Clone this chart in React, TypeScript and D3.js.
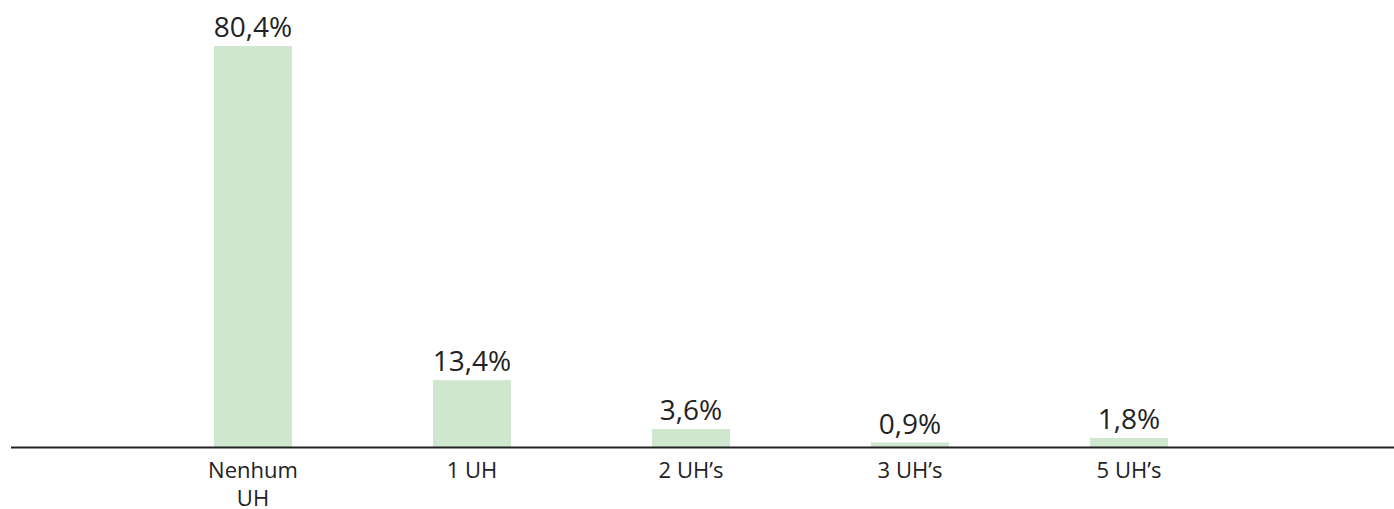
import React from 'react';
import * as d3 from 'd3';

const categories = ['Nenhum\nUH', '1 UH', '2 UH’s', '3 UH’s', '5 UH’s'];
const values = [80.4, 13.4, 3.6, 0.9, 1.8];
const valueLabels = ['80,4%', '13,4%', '3,6%', '0,9%', '1,8%'];

const width = 1394;
const height = 509;
const baseline = 447;
const fill = '#cfe6cf';
const font = '"Open Sans", sans-serif';

export default function App() {
  // step 219, bar width ~78
  const x = d3.scaleBand<string>()
    .domain(categories)
    .range([143.5, 1238.5])
    .paddingInner(0.644)
    .paddingOuter(0.322);

  const y = d3.scaleLinear()
    .domain([0, 80.4])
    .range([baseline, 46]);

  return (
    <svg width={width} height={height} style={{ position: 'absolute', left: 0, top: 0 }}>
      {categories.map((c, i) => {
        const cx = x(c)! + x.bandwidth() / 2;
        const lines = c.split('\n');
        return (
          <g key={c}>
            <rect x={x(c)!} y={y(values[i])} width={x.bandwidth()} height={baseline - y(values[i])} fill={fill} />
            <text x={cx} y={y(values[i]) - 9} textAnchor="middle" fontFamily={font} fontSize={28} fill="#222">
              {valueLabels[i]}
            </text>
            {lines.map((l, j) => (
              <text key={j} x={cx} y={478 + j * 28} textAnchor="middle" fontFamily={font} fontSize={22} fill="#222">
                {l}
              </text>
            ))}
          </g>
        );
      })}
      <line x1={11} x2={width} y1={baseline + 0.5} y2={baseline + 0.5} stroke="#222" strokeWidth={2} />
    </svg>
  );
}
